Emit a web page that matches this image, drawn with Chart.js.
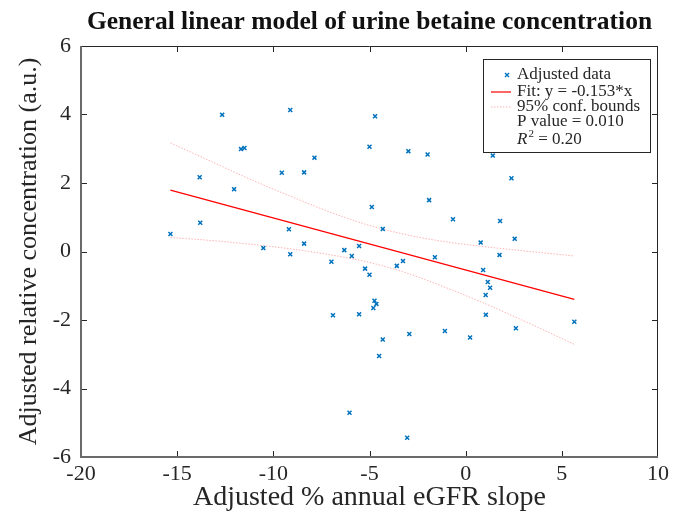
<!DOCTYPE html>
<html>
<head>
<meta charset="utf-8">
<script src="https://cdn.jsdelivr.net/npm/chart.js@4.4.1/dist/chart.umd.min.js"></script>
<style>
  html, body { margin: 0; padding: 0; background: #fff; }
  #wrap { width: 673px; height: 517px; position: relative; }
</style>
</head>
<body>
<div id="wrap"><canvas id="glmChart"></canvas></div>
<script>
// values
const dataX = [-15.35, -13.83, -13.80, -12.66, -12.04, -11.68, -11.50, -10.52, -9.56, -9.12,
  -9.19, -9.12, -8.40, -8.40, -7.86, -6.98, -6.90, -6.31, -6.04, -5.92,
  -5.54, -5.54, -5.23, -5.00, -5.00, -4.88, -4.80, -4.74, -4.71, -4.64,
  -4.50, -4.31, -4.31, -3.58, -3.26, -3.04, -2.98, -2.93, -1.98, -1.90,
  -1.60, -1.08, -0.66, 0.23, 0.78, 0.91, 1.04, 1.05, 1.15, 1.27,
  1.41, 1.76, 1.79, 2.38, 2.55, 2.61, 5.65];
const dataY = [0.51, 2.17, 0.84, 3.99, 1.82, 2.99, 3.02, 0.10, 2.30, 4.13,
  0.65, -0.08, 2.31, 0.23, 2.74, -0.30, -1.86, 0.04, -4.71, -0.13,
  0.16, -1.83, -0.50, -0.68, 3.06, 1.30, -1.65, -1.44, 3.95, -1.53,
  -3.05, 0.66, -2.57, -0.42, -0.28, -5.44, 2.93, -2.41, 2.83, 1.50,
  -0.17, -2.32, 0.94, -2.51, 0.26, -0.54, -1.27, -1.85, -0.89, -1.06,
  2.80, -0.10, 0.89, 2.14, 0.37, -2.24, -2.05];

const fitX = [-15.35, 5.65];
const fitY = [1.79, -1.40];

const boundX = [-15.35, -13, -11, -9, -7, -5, -3, -1, 1, 3, 5.65];
const upperY = [3.17, 2.57, 2.06, 1.59, 1.14, 0.76, 0.48, 0.28, 0.14, 0.02, -0.13];
const lowerY = [0.41, 0.31, 0.20, 0.07, -0.10, -0.32, -0.64, -1.06, -1.52, -2.02, -2.71];

const xTicks = [-20, -15, -10, -5, 0, 5, 10];
const yTicks = [-6, -4, -2, 0, 2, 4, 6];

const legendItems = ['Adjusted data', 'Fit: y = -0.153*x', '95% conf. bounds', 'P value = 0.010'];

const SERIF = '"Liberation Serif", "Times New Roman", serif';
const BLUE = '#0072BD';
const TEXT = '#262626';

function toPoints(xs, ys) {
  return xs.map((x, i) => ({ x: x, y: ys[i] }));
}

// MATLAB style box with inward ticks
const boxPlugin = {
  id: 'box',
  afterDatasetsDraw(chart) {
    const { ctx, chartArea: a, scales: { x, y } } = chart;
    ctx.save();
    ctx.strokeStyle = '#262626';
    ctx.lineWidth = 1;
    ctx.beginPath();
    ctx.moveTo(a.left, a.top + 0.5); ctx.lineTo(a.right, a.top + 0.5);
    ctx.moveTo(a.right - 0.5, a.top); ctx.lineTo(a.right - 0.5, a.bottom);
    xTicks.slice(1, -1).forEach(v => {
      const px = Math.round(x.getPixelForValue(v)) + 0.5;
      ctx.moveTo(px, a.top); ctx.lineTo(px, a.top + 6);
      ctx.moveTo(px, a.bottom); ctx.lineTo(px, a.bottom - 6);
    });
    yTicks.slice(1, -1).forEach(v => {
      const py = Math.round(y.getPixelForValue(v)) + 0.5;
      ctx.moveTo(a.right, py); ctx.lineTo(a.right - 6, py);
      ctx.moveTo(a.left, py); ctx.lineTo(a.left + 6, py);
    });
    ctx.stroke();

    ctx.strokeStyle = '#6a6a6a';
    ctx.lineWidth = 2;
    ctx.beginPath();
    ctx.moveTo(a.left, a.top); ctx.lineTo(a.left, a.bottom);
    ctx.lineTo(a.right, a.bottom);
    ctx.stroke();
    ctx.restore();
  }
};

const legendPlugin = {
  id: 'fitLegend',
  afterDraw(chart) {
    const ctx = chart.ctx;
    const bx = 483, by = 59, bw = 167, bh = 93;
    ctx.save();
    ctx.fillStyle = '#fff';
    ctx.fillRect(bx, by, bw, bh);
    ctx.strokeStyle = '#262626';
    ctx.lineWidth = 1;
    ctx.strokeRect(bx + 0.5, by + 0.5, bw, bh);

    const rows = [75, 92, 107, 122];
    const tx = 517;
    ctx.font = '17px ' + SERIF;
    ctx.fillStyle = TEXT;
    ctx.textBaseline = 'middle';
    legendItems.forEach((t, i) => ctx.fillText(t, tx, rows[i]));

    // marker
    ctx.strokeStyle = BLUE;
    ctx.lineWidth = 1.4;
    ctx.beginPath();
    ctx.moveTo(505, 73); ctx.lineTo(509, 77);
    ctx.moveTo(509, 73); ctx.lineTo(505, 77);
    ctx.stroke();
    // fit line
    ctx.strokeStyle = '#ff0000';
    ctx.lineWidth = 1.2;
    ctx.beginPath();
    ctx.moveTo(491, rows[1]); ctx.lineTo(511, rows[1]);
    ctx.stroke();
    // bounds
    ctx.strokeStyle = 'rgba(255,0,0,0.3)';
    ctx.setLineDash([1.5, 1.5]);
    ctx.beginPath();
    ctx.moveTo(491, rows[2]); ctx.lineTo(511, rows[2]);
    ctx.stroke();
    ctx.setLineDash([]);

    // R^2 line
    ctx.font = 'italic 17px ' + SERIF;
    ctx.fillText('R', tx, 140);
    let w = ctx.measureText('R').width;
    ctx.font = '11px ' + SERIF;
    ctx.fillText('2', tx + w + 1, 134);
    w += ctx.measureText('2').width + 1;
    ctx.font = '17px ' + SERIF;
    ctx.fillText(' = 0.20', tx + w, 140);
    ctx.restore();
  }
};

function initChart() {
  const ctx = document.getElementById('glmChart').getContext('2d');
  new Chart(ctx, {
    type: 'scatter',
    data: {
      datasets: [
        { label: 'Adjusted data', data: toPoints(dataX, dataY), pointStyle: 'crossRot',
          pointRadius: 2.8, borderColor: BLUE, backgroundColor: BLUE, pointBorderWidth: 1.5 },
        { label: 'Fit', type: 'line', data: toPoints(fitX, fitY), borderColor: '#ff0000',
          borderWidth: 1.2, pointRadius: 0, fill: false },
        { label: 'Upper', type: 'line', data: toPoints(boundX, upperY), borderColor: 'rgba(255,0,0,0.3)',
          borderWidth: 1, borderDash: [1.5, 1.5], pointRadius: 0, fill: false, cubicInterpolationMode: 'monotone' },
        { label: 'Lower', type: 'line', data: toPoints(boundX, lowerY), borderColor: 'rgba(255,0,0,0.3)',
          borderWidth: 1, borderDash: [1.5, 1.5], pointRadius: 0, fill: false, cubicInterpolationMode: 'monotone' }
      ]
    },
    options: {
      responsive: true,
      maintainAspectRatio: false,
      animation: false,
      layout: { padding: { top: 0, right: 12, bottom: 0, left: 0 } },
      plugins: {
        legend: { display: false },
        tooltip: { enabled: false },
        title: {
          display: true,
          fullSize: false,
          text: 'General linear model of urine betaine concentration',
          color: '#111',
          font: { family: SERIF, size: 25.5, weight: 'bold' },
          padding: { top: 7, bottom: 8.4 }
        }
      },
      scales: {
        x: {
          type: 'linear', min: -20, max: 10,
          afterBuildTicks: s => { s.ticks = xTicks.map(v => ({ value: v })); },
          afterFit: s => { s.height = 60; },
          grid: { display: false, drawTicks: false },
          border: { display: false },
          ticks: { color: TEXT, padding: 4, font: { family: SERIF, size: 22 }, maxRotation: 0 },
          title: { display: true, text: 'Adjusted % annual eGFR slope', color: TEXT,
            font: { family: SERIF, size: 28 }, padding: { top: 0, bottom: 3 } }
        },
        y: {
          type: 'linear', min: -6, max: 6,
          afterBuildTicks: s => { s.ticks = yTicks.map(v => ({ value: v })); },
          afterFit: s => { s.width = 81; },
          grid: { display: false, drawTicks: false },
          border: { display: false },
          ticks: { color: TEXT, padding: 10, font: { family: SERIF, size: 22 } },
          title: { display: true, text: 'Adjusted relative concentration (a.u.)', color: TEXT,
            font: { family: SERIF, size: 26 }, padding: { top: 14, bottom: 0 } }
        }
      }
    },
    plugins: [boxPlugin, legendPlugin]
  });
}

document.addEventListener('DOMContentLoaded', initChart);
</script>
</body>
</html>
